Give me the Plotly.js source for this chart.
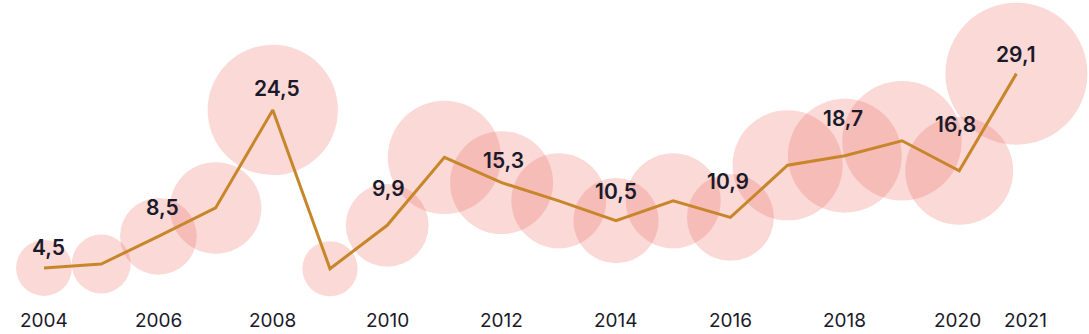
<!DOCTYPE html>
<html>
<head>
<meta charset="utf-8">
<script src="https://cdn.plot.ly/plotly-3.0.1.min.js"></script>
<style>
  html, body { margin: 0; padding: 0; background: #ffffff; }
  #chart { width: 1089px; height: 334px; }
</style>
</head>
<body>
<div id="chart"></div>
<script>
// ---- Data ----
const years = [2004, 2005, 2006, 2007, 2008, 2009, 2010, 2011, 2012, 2013, 2014, 2015, 2016, 2017, 2018, 2019, 2020, 2021];
const values = [4.5, 5.0, 8.5, 12.1, 24.5, 4.4, 9.9, 18.5, 15.3, 13.0, 10.5, 13.0, 10.9, 17.5, 18.7, 20.6, 16.8, 29.1];
const labelYears = [2004, 2006, 2008, 2010, 2012, 2014, 2016, 2018, 2020, 2021];
const tickYears = [2004, 2006, 2008, 2010, 2012, 2014, 2016, 2018, 2020, 2021];
const tickLabels = ["2004", "2006", "2008", "2010", "2012", "2014", "2016", "2018", "2020", "2021"];

// ---- Styling / placement config ----
const labelShift = { // [xshift, yshift] in px for value labels
  2004: [5, 20], 2006: [4, 29], 2008: [4, 21], 2010: [1, 37], 2012: [2, 22],
  2014: [0, 29], 2016: [-2, 36], 2018: [-2, 37], 2020: [-4, 46], 2021: [0, 19]
};
const tickShift = { 2020: -2, 2021: 9 };
const maxBubblePx = 142;
const textColor = "#1a1a2a";
const fontFamily = "Inter, 'Liberation Sans', Arial, sans-serif";

const fmt = v => v.toFixed(1).replace(".", ",");
const maxVal = Math.max(...values);

const bubbles = {
  type: "scatter", mode: "markers",
  x: years, y: values,
  marker: {
    size: values, sizemode: "area",
    sizeref: 2 * maxVal / (maxBubblePx * maxBubblePx),
    color: "rgb(234,96,86)", opacity: 0.24,
    line: { width: 0 }
  },
  hoverinfo: "skip", cliponaxis: false
};
const line = {
  type: "scatter", mode: "lines",
  x: years, y: values,
  line: { color: "#c8862a", width: 3 },
  hoverinfo: "skip", cliponaxis: false
};

const annotations = [];
labelYears.forEach(yr => {
  const i = years.indexOf(yr);
  const s = labelShift[yr] || [0, 24];
  annotations.push({
    x: yr, y: values[i], xref: "x", yref: "y",
    text: fmt(values[i]), showarrow: false,
    xanchor: "center", yanchor: "middle",
    xshift: s[0], yshift: s[1],
    font: { family: fontFamily, size: 21, color: textColor, weight: 600 }
  });
});
tickYears.forEach((yr, k) => {
  annotations.push({
    x: yr, y: 0, xref: "x", yref: "y",
    text: tickLabels[k], showarrow: false,
    xanchor: "center", yanchor: "middle",
    xshift: tickShift[yr] || 0, yshift: -17,
    font: { family: fontFamily, size: 19, color: textColor, weight: 400 }
  });
});

const layout = {
  width: 1089, height: 334,
  margin: { l: 0, r: 0, t: 0, b: 0, pad: 0 },
  paper_bgcolor: "#ffffff", plot_bgcolor: "#ffffff",
  showlegend: false,
  xaxis: { range: [2003.231, 2022.269], visible: false, fixedrange: true },
  yaxis: { range: [-3.86, 38.42], visible: false, fixedrange: true },
  annotations: annotations
};

Plotly.newPlot("chart", [bubbles, line], layout, { displayModeBar: false, staticPlot: true });
</script>
</body>
</html>
